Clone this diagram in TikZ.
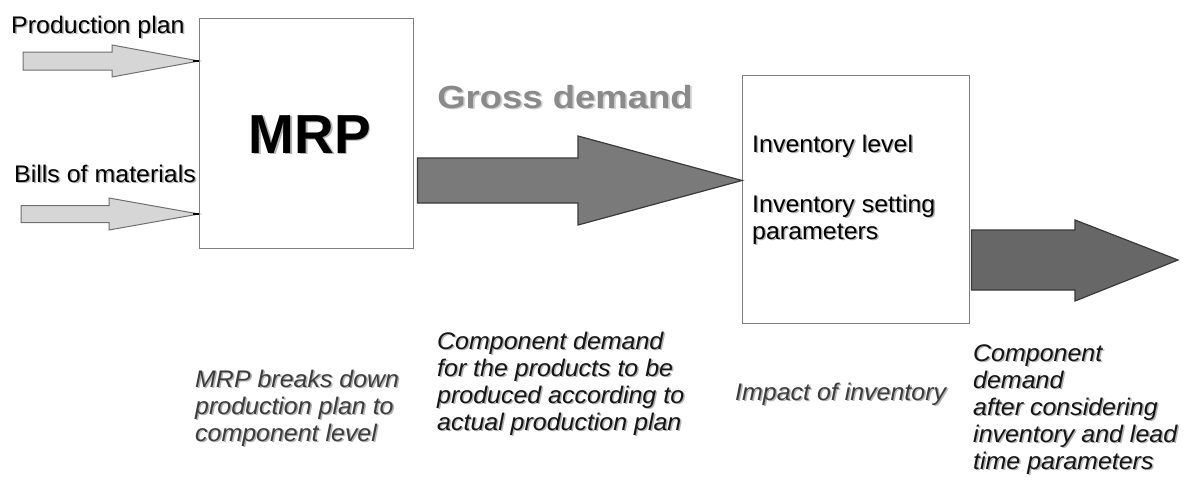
\documentclass[tikz,border=0pt]{standalone}
\usepackage{fontspec}
\usepackage{graphicx}
\setmainfont[FakeStretch=1.04]{Liberation Sans}
\newfontfamily\plainsans{Liberation Sans}
\usetikzlibrary{calc}
\definecolor{boxline}{HTML}{7F7F7F}
\definecolor{lightfill}{HTML}{D6D6D6}
\definecolor{lightline}{HTML}{707070}
\definecolor{midfill}{HTML}{7A7A7A}
\definecolor{darkfill}{HTML}{676767}
\definecolor{arrowline}{HTML}{3A3A3A}
\definecolor{shadowc}{HTML}{B4B4B4}
\definecolor{grosstext}{HTML}{8A8A8A}
\definecolor{grossshadow}{HTML}{CFCFCF}
\definecolor{notegray}{HTML}{3C3C3C}
\definecolor{noteblack}{HTML}{151515}
\newcommand{\shd}[2][shadowc]{\leavevmode\rlap{\kern1.5pt\raisebox{-1.5pt}{\textcolor{#1}{#2}}}#2}
\newcommand{\lineof}[1]{\hbox{\shd{#1}}}
\newcommand{\stack}[1]{\vtop{\baselineskip=27pt\relax #1}}
\tikzset{
  box/.style={draw=boxline, line width=1.4pt, fill=white, anchor=north west, inner sep=0pt},
  label/.style={inner sep=0pt, anchor=base west, font=\fontsize{24}{27}\selectfont},
  note/.style={inner sep=0pt, anchor=base west, font=\fontsize{24}{27}\selectfont\itshape},
  lightarrow/.style={fill=lightfill, draw=lightline, line width=1pt, line join=miter},
  darkarrow/.style={draw=arrowline, line width=1.2pt, line join=miter},
}
\begin{document}
\begin{tikzpicture}[x=1pt,y=-1pt]
\useasboundingbox[fill=white] (0,0) rectangle (1186,482);

% boxes
\node[box, minimum width=214pt, minimum height=230pt] (mrp) at (199,18) {};
\node[box, minimum width=227pt, minimum height=248pt] (inv) at (742,75) {};

% input arrows
\coordinate (pptip) at ($(mrp.north west)+(0,43)$);
\coordinate (bomtip) at ($(mrp.north west)+(0,196)$);
\draw[lightarrow] (23,52) -- (112,52) -- (112,45) -- (pptip) -- (112,77) -- (112,70) -- (23,70) -- cycle;
\draw[lightarrow] (21,205.5) -- (109,205.5) -- (109,198) -- (bomtip) -- (109,230) -- (109,222.5) -- (21,222.5) -- cycle;
\draw[black, line width=1.6pt] ($(pptip)+(-6,0)$) -- (pptip);
\draw[black, line width=1.6pt] ($(bomtip)+(-6,0)$) -- (bomtip);

% gross demand arrow
\coordinate (grosstail) at ($(mrp.north east)+(3,162.5)$);
\coordinate (grosstip) at ($(inv.north west)+(0,105.5)$);
\draw[darkarrow, fill=midfill] (grosstail) ++(0,-22.5) -- (578,158) -- (578,136) -- (grosstip) -- (578,225) -- (578,203) -- ($(grosstail)+(0,22.5)$) -- cycle;

% output arrow
\coordinate (outtail) at ($(inv.north east)+(1,185)$);
\coordinate (outtip) at (1178,260);
\draw[darkarrow, fill=darkfill] (outtail) ++(0,-30) -- (1075,230) -- (1075,220) -- (outtip) -- (1075,301) -- (1075,290) -- ($(outtail)+(0,30)$) -- cycle;

% labels
\node[label] (pp) at (11,33) {\shd{Production plan}};
\node[label] (bom) at (14,182) {\shd{Bills of materials}};
\node[inner sep=0pt, anchor=base, font=\plainsans\fontsize{55}{60}\selectfont\bfseries] (mrptext) at (310,153) {\shd{MRP}};
\node[inner sep=0pt, anchor=base, font=\plainsans\fontsize{32}{36}\selectfont\bfseries, text=grosstext] (gross) at (565,108) {\scalebox{1.14}[1]{\shd[grossshadow]{Gross demand}}};
\node[label] (invlevel) at (752,152) {\shd{Inventory level}};
\node[label] (invparam) at (752,212) {\stack{\lineof{Inventory setting}\lineof{parameters}}};

% notes
\node[note, text=notegray] (note1) at (195,387) {\stack{\lineof{MRP breaks down}\lineof{production plan to}\lineof{component level}}};
\node[note, text=noteblack] (note2) at (437,349) {\stack{\lineof{Component demand}\lineof{for the products to be}\lineof{produced according to}\lineof{actual production plan}}};
\node[note, text=notegray] (note3) at (735,400) {\shd{Impact of inventory}};
\node[note, text=noteblack] (note4) at (973,361) {\stack{\lineof{Component}\lineof{demand}\lineof{after considering}\lineof{inventory and lead}\lineof{time parameters}}};
\end{tikzpicture}
\end{document}
